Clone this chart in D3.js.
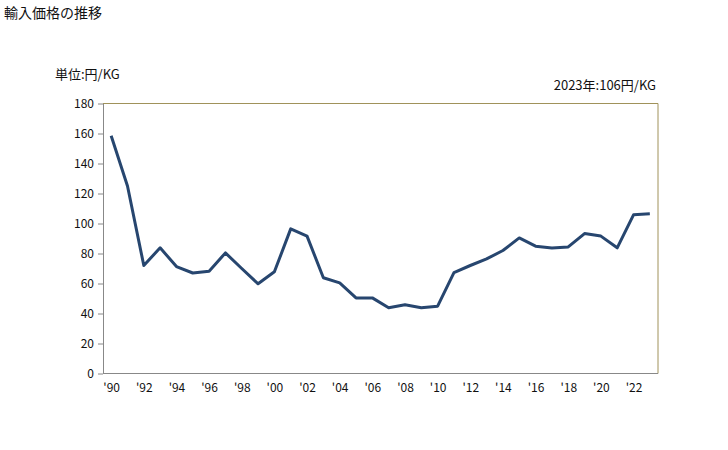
<!DOCTYPE html>
<html><head><meta charset="utf-8">
<script src="https://cdn.jsdelivr.net/npm/d3@7"></script>
<style>body{margin:0;background:#fff}text{font-family:"Noto Sans CJK JP","Noto Sans",sans-serif;fill:#111}</style>
</head><body><svg id="c" width="728" height="450"></svg>
<script>
const years = d3.range(1990, 2024);
const values = [158.5,125,72,83.8,71.3,67,68.2,80.4,70,59.8,67.8,96.4,91.6,63.8,60.4,50.4,50.4,43.8,45.8,43.8,44.9,67.3,72,76.4,82,90.4,84.9,83.6,84.4,93.3,91.6,83.8,105.8,106.5];
const yTicks = d3.range(0, 181, 20);
const xTickYears = years.filter(y => y % 2 === 0);
const title = "輸入価格の推移";
const unitLabel = "単位:円/KG";
const note = "2023年:106円/KG";

const svg = d3.select("#c");
const L = 103, R = 658, T = 103.5, B = 373.5;
const x = d3.scalePoint().domain(years).range([L, R]).padding(0.5);
const y = d3.scaleLinear().domain([0, 180]).range([B, T]);

svg.append("text").attr("x", 4).attr("y", 18).attr("font-size", 14).text(title);
svg.append("text").attr("x", 55).attr("y", 79).attr("font-size", 13).text(unitLabel);
svg.append("text").attr("x", 656).attr("y", 90).attr("font-size", 13).attr("text-anchor", "end").text(note);

// frame top/right
svg.append("path").attr("d", `M${L},${T}H${R}V${B}`).attr("fill", "none").attr("stroke", "#a0925a").attr("stroke-width", 1);

const ya = svg.append("g").attr("transform", `translate(${L},0)`)
  .call(d3.axisLeft(y).tickValues(yTicks).tickSize(5).tickPadding(4).tickSizeOuter(0));
ya.select(".domain").attr("stroke", "#888");
ya.selectAll(".tick line").attr("stroke", "#888");
ya.selectAll("text").attr("font-size", 12).attr("fill", "#111");

const xa = svg.append("g").attr("transform", `translate(0,${B})`)
  .call(d3.axisBottom(x).tickValues(xTickYears).tickSize(0).tickPadding(10)
    .tickFormat(d => "'" + String(d).slice(2)).tickSizeOuter(0));
xa.select(".domain").attr("stroke", "#888").attr("d", `M${L},0H${R}`);
xa.selectAll("text").attr("font-size", 12).attr("fill", "#111");

svg.append("path").datum(years.map((yr, i) => [yr, values[i]]))
  .attr("fill", "none").attr("stroke", "#27466f").attr("stroke-width", 3).attr("stroke-linejoin", "round")
  .attr("d", d3.line().x(d => x(d[0])).y(d => y(d[1])));
</script></body></html>
